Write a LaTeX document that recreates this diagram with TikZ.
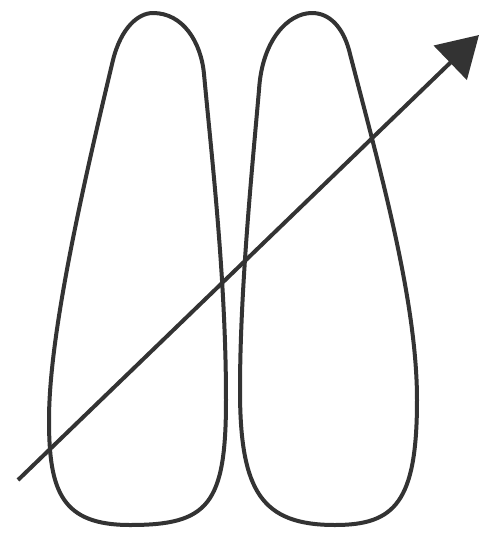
\documentclass[tikz,border=0pt]{standalone}
\usetikzlibrary{arrows.meta}
\definecolor{ink}{HTML}{333333}
\tikzset{
  blob/.style={draw=ink, line width=4pt, line join=round},
  arrowline/.style={draw=ink, line width=4pt, -{Triangle[length=40pt,width=47pt]}, fill=ink}
}
\begin{document}
\begin{tikzpicture}[x=1pt,y=-1pt]
\useasboundingbox (0,0) rectangle (501,550);
% left shape
\draw[blob] (153,13) .. controls (183,13) and (201,42) .. (204,74)
  .. controls (212,160) and (226,280) .. (226,400)
  .. controls (226,505) and (208,525) .. (130,525)
  .. controls (62,525) and (49,492) .. (49,420)
  .. controls (49,335) and (82,190) .. (113,60)
  .. controls (121,28) and (138,13) .. (153,13) -- cycle;
% right shape
\draw[blob] (312,13) .. controls (330,13) and (343,28) .. (349,50)
  .. controls (380,170) and (417,300) .. (417,400)
  .. controls (417,502) and (395,525) .. (335,525)
  .. controls (262,525) and (240,492) .. (240,390)
  .. controls (240,290) and (252,170) .. (259,90)
  .. controls (262,40) and (288,13) .. (312,13) -- cycle;
% arrow
\coordinate (s) at (18,480);
\coordinate (e) at (479,35);
\draw[arrowline] (s) -- (e);
\end{tikzpicture}
\end{document}
